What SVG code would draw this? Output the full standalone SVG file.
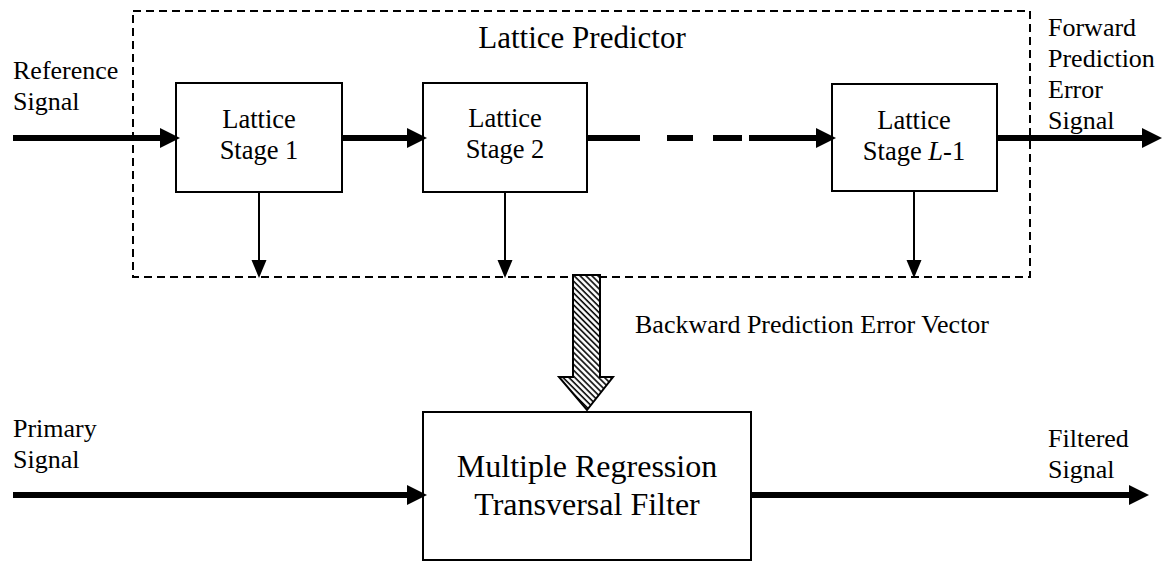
<svg xmlns="http://www.w3.org/2000/svg" width="1169" height="562" viewBox="0 0 1169 562">
  <style>
    text { font-family: "Liberation Serif", "Times New Roman", serif; fill: #000; }
    .lbl { font-size: 26px; }
    .stage { font-size: 26.5px; text-anchor: middle; }
    .title { font-size: 31px; text-anchor: middle; }
    .big { font-size: 32px; text-anchor: middle; }
    .box { fill: #fff; stroke: #000; stroke-width: 2; }
    .frame { fill: none; stroke: #000; stroke-width: 2; stroke-dasharray: 8 5; }
    .thick { stroke: #000; stroke-width: 6; fill: none; }
    .thin { stroke: #000; stroke-width: 2; fill: none; }
  </style>
  <defs>
    <marker id="headThick" markerUnits="userSpaceOnUse" markerWidth="20" markerHeight="20" refX="8" refY="10" orient="auto">
      <path d="M0,0 L20,10 L0,20 z" fill="#000"/>
    </marker>
    <marker id="headThin" markerUnits="userSpaceOnUse" markerWidth="18" markerHeight="16" refX="8" refY="8" orient="auto">
      <path d="M0,0.5 L18,8 L0,15.5 z" fill="#000"/>
    </marker>
    <pattern id="hatch" patternUnits="userSpaceOnUse" width="4.2" height="4.2" patternTransform="rotate(-45)">
      <rect width="4.2" height="4.2" fill="#fff"/>
      <line x1="1" y1="0" x2="1" y2="4.2" stroke="#000" stroke-width="1.6"/>
    </pattern>
  </defs>

  <!-- lattice predictor enclosure -->
  <g id="lattice-predictor">
    <rect class="frame" x="133" y="11" width="897" height="266"/>
    <text class="title" x="582" y="48">Lattice Predictor</text>
  </g>

  <g id="stage-1">
    <rect class="box" x="176" y="83" width="166" height="109"/>
    <text class="stage" x="259" y="128">Lattice</text>
    <text class="stage" x="259" y="159">Stage 1</text>
  </g>

  <g id="stage-2">
    <rect class="box" x="423" y="83" width="164" height="109"/>
    <text class="stage" x="505" y="127">Lattice</text>
    <text class="stage" x="505" y="158">Stage 2</text>
  </g>

  <g id="stage-L-1">
    <rect class="box" x="832" y="84" width="165" height="107"/>
    <text class="stage" x="914" y="129">Lattice</text>
    <text class="stage" x="914" y="160">Stage <tspan font-style="italic">L</tspan>-1</text>
  </g>

  <g id="regression-filter">
    <rect class="box" x="423" y="412" width="328" height="148"/>
    <text class="big" x="587" y="477">Multiple Regression</text>
    <text class="big" x="587" y="515">Transversal Filter</text>
  </g>

  <!-- signal labels -->
  <g id="labels">
    <text class="lbl" x="13" y="79">Reference</text>
    <text class="lbl" x="13" y="110">Signal</text>
    <text class="lbl" x="1048" y="36">Forward</text>
    <text class="lbl" x="1048" y="67">Prediction</text>
    <text class="lbl" x="1048" y="98">Error</text>
    <text class="lbl" x="1048" y="129">Signal</text>
    <text class="lbl" x="635" y="333">Backward Prediction Error Vector</text>
    <text class="lbl" x="13" y="437">Primary</text>
    <text class="lbl" x="13" y="468">Signal</text>
    <text class="lbl" x="1048" y="447">Filtered</text>
    <text class="lbl" x="1048" y="478">Signal</text>
  </g>

  <g id="connectors">
    <!-- forward path through the stages -->
    <line class="thick" x1="13" y1="138" x2="168" y2="138" marker-end="url(#headThick)"/>
    <line class="thick" x1="342" y1="138" x2="415" y2="138" marker-end="url(#headThick)"/>
    <line class="thick" x1="587" y1="138" x2="640" y2="138"/>
    <line class="thick" x1="667" y1="138" x2="693" y2="138"/>
    <line class="thick" x1="713" y1="138" x2="742" y2="138"/>
    <line class="thick" x1="749" y1="138" x2="824" y2="138" marker-end="url(#headThick)"/>
    <line class="thick" x1="997" y1="138" x2="1150" y2="138" marker-end="url(#headThick)"/>

    <!-- backward error outputs -->
    <line class="thin" x1="259" y1="192" x2="259" y2="268" marker-end="url(#headThin)"/>
    <line class="thin" x1="505" y1="192" x2="505" y2="268" marker-end="url(#headThin)"/>
    <line class="thin" x1="914" y1="191" x2="914" y2="268" marker-end="url(#headThin)"/>

    <!-- backward prediction error vector -->
    <polygon points="573,275 600,275 600,377 613,377 587,410 559,377 573,377" fill="url(#hatch)" stroke="#000" stroke-width="2" stroke-linejoin="miter"/>

    <!-- primary input and filtered output -->
    <line class="thick" x1="13" y1="495" x2="415" y2="495" marker-end="url(#headThick)"/>
    <line class="thick" x1="751" y1="495" x2="1137" y2="495" marker-end="url(#headThick)"/>
  </g>
</svg>
